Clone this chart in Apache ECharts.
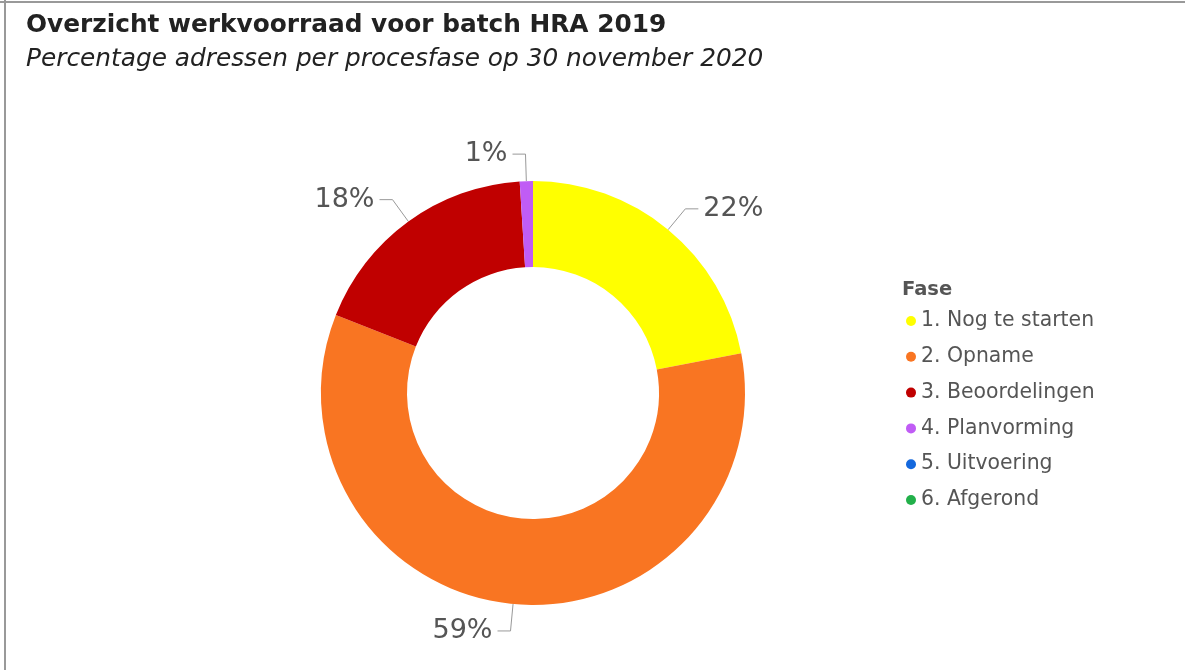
<!DOCTYPE html>
<html>
<head>
<meta charset="utf-8">
<script src="https://cdn.jsdelivr.net/npm/echarts@6/dist/echarts.min.js"></script>
<style>
html,body{margin:0;padding:0;background:#fff;}
#chart{width:1185px;height:670px;}
</style>
</head>
<body>
<div id="chart"></div>
<script>
const categories = ['1. Nog te starten', '2. Opname', '3. Beoordelingen', '4. Planvorming', '5. Uitvoering', '6. Afgerond'];
const values = [22, 59, 18, 1, 0, 0];
const colors = ['#FFFF00', '#F97522', '#C00000', '#C05CF5', '#1468DD', '#22B04A'];
const titleText = 'Overzicht werkvoorraad voor batch HRA 2019';
const subtitleText = 'Percentage adressen per procesfase op 30 november 2020';
const legendTitle = 'Fase';

const chart = echarts.init(document.getElementById('chart'), null, {renderer: 'canvas'});

const data = categories.map((name, i) => {
  const item = {name: name, value: values[i], itemStyle: {color: colors[i]}};
  if (values[i] === 0) {
    item.label = {show: false};
    item.labelLine = {show: false};
  }
  return item;
});

chart.setOption({
  backgroundColor: '#fff',
  animation: false,
  title: [
    {
      text: titleText,
      left: 21, top: 8,
      textStyle: {fontFamily: 'DejaVu Sans', fontWeight: 'bold', fontSize: 24.8, color: '#222'}
    },
    {
      text: subtitleText,
      left: 21, top: 42,
      textStyle: {fontFamily: 'DejaVu Sans', fontStyle: 'italic', fontWeight: 'normal', fontSize: 24.8, color: '#222'}
    },
    {
      text: legendTitle,
      left: 897, top: 275,
      textStyle: {fontFamily: 'DejaVu Sans', fontWeight: 'bold', fontSize: 19.5, color: '#555'}
    }
  ],
  legend: {
    orient: 'vertical',
    left: 901, top: 306,
    icon: 'circle',
    itemWidth: 10, itemHeight: 10,
    itemGap: 15.8,
    data: categories,
    textStyle: {fontFamily: 'DejaVu Sans', fontSize: 20.4, color: '#555'},
    selectedMode: false
  },
  graphic: [
    {type: 'line', shape: {x1: 5, y1: 0, x2: 5, y2: 670}, style: {stroke: '#999', lineWidth: 2}},
    {type: 'line', shape: {x1: 0, y1: 2, x2: 1185, y2: 2}, style: {stroke: '#999', lineWidth: 2}}
  ],
  series: [{
    type: 'pie',
    center: [533, 393],
    radius: [126, 212],
    startAngle: 90,
    clockwise: true,
    avoidLabelOverlap: false,
    data: data,
    label: {
      show: true,
      position: 'outside',
      formatter: '{c}%',
      fontFamily: 'DejaVu Sans',
      fontSize: 27,
      color: '#555',
      distanceToLabelLine: 5
    },
    labelLine: {
      show: true,
      length: 27,
      length2: 13,
      lineStyle: {color: '#999', width: 1}
    },
    emphasis: {disabled: true}
  }]
});
</script>
</body>
</html>
